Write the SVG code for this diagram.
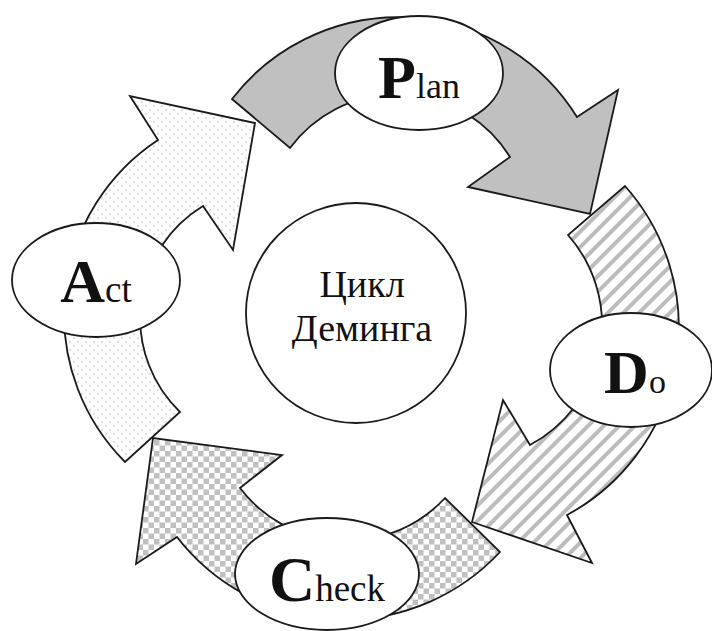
<svg xmlns="http://www.w3.org/2000/svg" width="712" height="631" viewBox="0 0 712 631">
<style>
.arrow{stroke:#1a1a1a;stroke-width:1.8;stroke-linejoin:miter}
.node{fill:#fff;stroke:#1a1a1a;stroke-width:1.8}
.t{font-family:"Liberation Serif","Times New Roman",serif;fill:#111}
.big{font-weight:bold}
</style>
<defs>
<pattern id="stripes" width="11" height="11" patternUnits="userSpaceOnUse" patternTransform="rotate(45)">
<rect width="11" height="11" fill="#fff"/><rect width="4" height="11" fill="#bcbcbc"/>
</pattern>
<pattern id="checker" width="11" height="11" patternUnits="userSpaceOnUse">
<rect width="11" height="11" fill="#fff"/><rect width="5.5" height="5.5" fill="#c0c0c0"/><rect x="5.5" y="5.5" width="5.5" height="5.5" fill="#c0c0c0"/>
</pattern>
<pattern id="dots" width="8" height="8" patternUnits="userSpaceOnUse">
<rect width="8" height="8" fill="#fff"/><circle cx="2" cy="2" r="1.2" fill="#e0e0e0"/><circle cx="6" cy="6" r="1.2" fill="#e0e0e0"/>
</pattern>
</defs>
<rect width="712" height="631" fill="#fff"/>
<g id="connectors">
<path id="arrow-plan" class="arrow" fill="#c0c0c0" d="M232,99 A210,210 0 0 1 577,117 L618,90 L590,214 L468,187 L510,157 A133,133 0 0 0 290,148 Z"/>
<path id="arrow-do" class="arrow" fill="url(#stripes)" d="M625,186 A213,213 0 0 1 567,515 L592,563 L472,522 L503,400 L530,445 A136,136 0 0 0 568,235 Z"/>
<path id="arrow-check" class="arrow" fill="url(#checker)" d="M500,552 A212,212 0 0 1 177,537 L136,564 L153,438 L282,455 L240,488 A134,134 0 0 0 445,498 Z"/>
<path id="arrow-act" class="arrow" fill="url(#dots)" d="M125,462 A209,209 0 0 1 158,140 L130,96 L255,123 L233,250 L203,206 A131,131 0 0 0 180,412 Z"/>
</g>
<g id="center">
<circle class="node" cx="356" cy="313" r="110"/>
<text class="t" x="362" y="297" font-size="38" text-anchor="middle">Цикл</text>
<text class="t" x="362" y="341" font-size="38" text-anchor="middle">Деминга</text>
</g>
<g id="plan">
<ellipse class="node" cx="419" cy="73" rx="84" ry="57"/>
<text class="t" x="419" y="98" text-anchor="middle"><tspan class="big" font-size="62">P</tspan><tspan font-size="36">lan</tspan></text>
</g>
<g id="do">
<ellipse class="node" cx="631" cy="370" rx="81" ry="57"/>
<text class="t" x="635" y="393" text-anchor="middle"><tspan class="big" font-size="62">D</tspan><tspan font-size="34">o</tspan></text>
</g>
<g id="check">
<ellipse class="node" cx="327" cy="574" rx="92" ry="56"/>
<text class="t" x="327" y="601" text-anchor="middle"><tspan class="big" font-size="64">C</tspan><tspan font-size="37">heck</tspan></text>
</g>
<g id="act">
<ellipse class="node" cx="96" cy="280" rx="84" ry="57"/>
<text class="t" x="96" y="302" text-anchor="middle"><tspan class="big" font-size="62">A</tspan><tspan font-size="37">ct</tspan></text>
</g>
</svg>
